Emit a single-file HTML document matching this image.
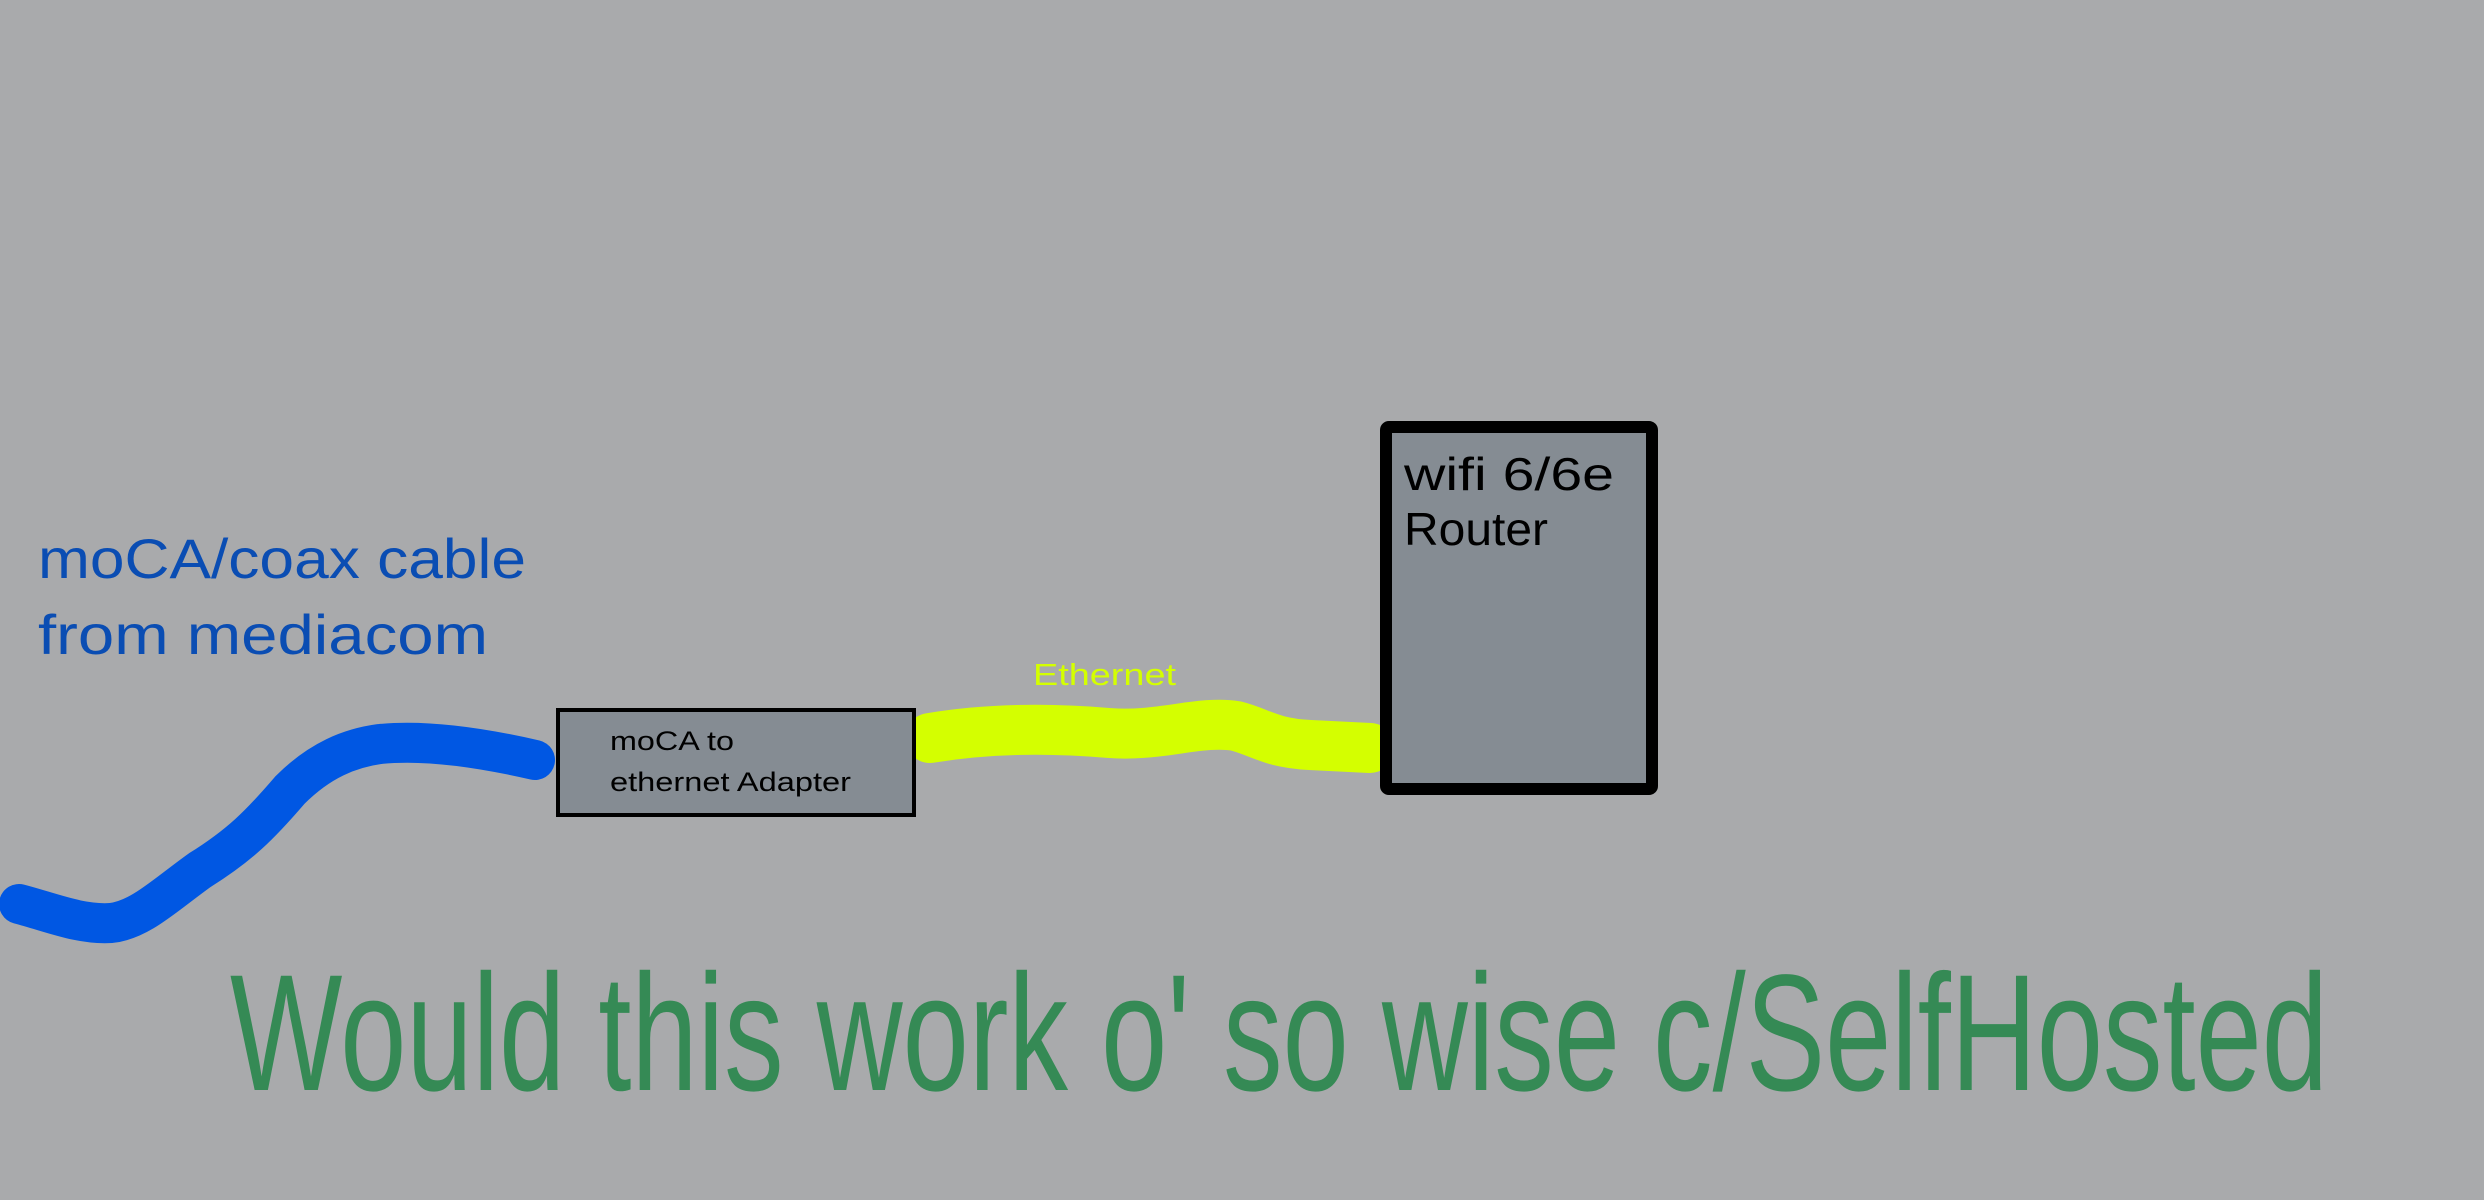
<!DOCTYPE html>
<html><head><meta charset="utf-8"><style>html,body{margin:0;padding:0;background:#a9aaac;}svg{display:block}</style></head>
<body>
<svg width="2484" height="1200" viewBox="0 0 2484 1200" xmlns="http://www.w3.org/2000/svg">
<rect width="2484" height="1200" fill="#a9aaac"/>
<!-- blue cable -->
<path d="M19,904 C50,912 80,925 111,923 C140,920 165,895 200,870 C240,845 260,825 290,790 C320,760 350,748 380,744 C420,740 470,745 535,760" fill="none" stroke="#0057e3" stroke-width="40" stroke-linecap="round" stroke-linejoin="round"/>
<!-- yellow cable -->
<path d="M930,738 C990,728 1050,728 1109,733 C1160,737 1200,720 1236,726 C1260,732 1270,743 1310,745 L1370,748" fill="none" stroke="#d4ff00" stroke-width="50" stroke-linecap="round" stroke-linejoin="round"/>
<!-- adapter -->
<rect x="558" y="710" width="356" height="105" fill="#858c93" stroke="#000" stroke-width="4"/>
<text x="610" y="750" font-family="Liberation Sans, sans-serif" font-size="27" fill="#000" textLength="124" lengthAdjust="spacingAndGlyphs">moCA to</text>
<text x="610" y="791" font-family="Liberation Sans, sans-serif" font-size="27" fill="#000" textLength="241" lengthAdjust="spacingAndGlyphs">ethernet Adapter</text>
<!-- router -->
<rect x="1386" y="427" width="266" height="362" rx="3" fill="#858c93" stroke="#000" stroke-width="12"/>
<text x="1404" y="490" font-family="Liberation Sans, sans-serif" font-size="46" fill="#000" textLength="210" lengthAdjust="spacingAndGlyphs">wifi 6/6e</text>
<text x="1404" y="545" font-family="Liberation Sans, sans-serif" font-size="46" fill="#000" textLength="144" lengthAdjust="spacingAndGlyphs">Router</text>
<!-- labels -->
<text x="38" y="578" font-family="Liberation Sans, sans-serif" font-size="56" fill="#0a4db3" textLength="488" lengthAdjust="spacingAndGlyphs">moCA/coax cable</text>
<text x="38" y="654" font-family="Liberation Sans, sans-serif" font-size="56" fill="#0a4db3" textLength="450" lengthAdjust="spacingAndGlyphs">from mediacom</text>
<text x="1033" y="685" font-family="Liberation Sans, sans-serif" font-size="31" fill="#d4ff00" textLength="143" lengthAdjust="spacingAndGlyphs">Ethernet</text>
<text x="230" y="1090" font-family="Liberation Sans, sans-serif" font-size="166" fill="#358a55" textLength="2098" lengthAdjust="spacingAndGlyphs">Would this work o' so wise c/SelfHosted</text>
</svg>
</body></html>
